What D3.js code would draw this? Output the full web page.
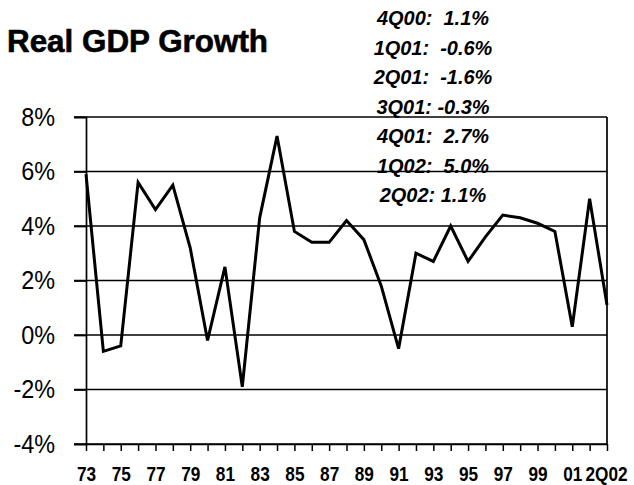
<!DOCTYPE html>
<html lang="en">
  <head>
    <meta charset="utf-8" />
    <title>Real GDP Growth</title>
    <script src="https://d3js.org/d3.v7.min.js"></script>
    <style type="text/css">
        body { margin:0; background:#fff; }
        text { font-family:"Liberation Sans", Arial, sans-serif; fill:#000; }
    </style>
  </head>
  <body>
    <svg id="chart"></svg>
  </body>
  <script type="text/javascript">

    var w = 634,
        h = 485;

    // annual growth 73..01, then the two 2002 quarters
    var categories = ['73','74','75','76','77','78','79','80','81','82',
                      '83','84','85','86','87','88','89','90','91','92',
                      '93','94','95','96','97','98','99','00','01','1Q02','2Q02'];
    var growth = [5.9, -0.6, -0.4, 5.6, 4.6, 5.5, 3.2, -0.2, 2.5, -1.9,
                  4.3, 7.3, 3.8, 3.4, 3.4, 4.2, 3.5, 1.8, -0.5, 3.0,
                  2.7, 4.0, 2.7, 3.6, 4.4, 4.3, 4.1, 3.8, 0.3, 5.0, 1.1];
    var yTicks = [-4, -2, 0, 2, 4, 6, 8];
    var notes = ['4Q00:  1.1%', '1Q01:  -0.6%', '2Q01:  -1.6%', '3Q01: -0.3%',
                 '4Q01:  2.7%', '1Q02:  5.0%', '2Q02: 1.1%'];

    var plotLeft = 86, plotRight = 607, plotTop = 117, plotBottom = 444;

    var svg = d3.select('#chart')
                .attr('width', w)
                .attr('height', h);

    var xScale = d3.scalePoint()
                   .domain(categories)
                   .range([plotLeft, plotRight]);
    var yScale = d3.scaleLinear()
                   .domain([-4, 8])
                   .range([plotBottom, plotTop]);

    // squeeze a text a little, like the narrow face of the original
    function narrow(sel, k) {
        sel.each(function() {
            var len = this.getComputedTextLength();
            if (len > 0) {
                d3.select(this)
                  .attr('textLength', len * k)
                  .attr('lengthAdjust', 'spacingAndGlyphs');
            }
        });
    }

    // title
    svg.append('text')
       .attr('x', 7)
       .attr('y', 52)
       .attr('font-size', 32)
       .attr('font-weight', 'bold')
       .attr('stroke', '#000')
       .attr('stroke-width', 0.6)
       .attr('textLength', 261)
       .attr('lengthAdjust', 'spacingAndGlyphs')
       .text('Real GDP Growth');

    // horizontal grid lines, running out past the axis as ticks
    svg.selectAll('line.grid')
       .data(yTicks)
       .enter()
       .append('line')
       .attr('class', 'grid')
       .attr('x1', plotLeft - 12)
       .attr('x2', plotRight)
       .attr('y1', function(d) { return yScale(d); })
       .attr('y2', function(d) { return yScale(d); })
       .attr('stroke', '#000')
       .attr('stroke-width', 1.7);

    // y axis
    var yAxis = d3.axisLeft(yScale)
                  .tickValues(yTicks)
                  .tickSize(12)
                  .tickPadding(19)
                  .tickFormat(function(d) { return d + '%'; });
    var gy = svg.append('g')
                .attr('transform', 'translate(' + plotLeft + ',0)')
                .call(yAxis);
    gy.select('.domain').attr('stroke-width', 1.7);
    gy.selectAll('.tick line').attr('stroke-width', 1.7);
    gy.selectAll('.tick text')
      .attr('font-size', 26)
      .attr('font-family', '"Liberation Sans", Arial, sans-serif')
      .attr('fill', '#000')
      .call(narrow, 0.9);

    // right frame
    svg.append('line')
       .attr('x1', plotRight).attr('x2', plotRight)
       .attr('y1', plotTop).attr('y2', plotBottom)
       .attr('stroke', '#000')
       .attr('stroke-width', 1.7);

    // x axis: a tick for every category, a label for every other one
    var xAxis = d3.axisBottom(xScale)
                  .tickSizeInner(7)
                  .tickSizeOuter(0)
                  .tickPadding(16)
                  .tickFormat(function(d, i) { return i % 2 === 0 ? d : ''; });
    var gx = svg.append('g')
                .attr('transform', 'translate(0,' + plotBottom + ')')
                .call(xAxis);
    gx.select('.domain').attr('stroke-width', 1.7);
    gx.selectAll('.tick line').attr('stroke-width', 1.5);
    gx.selectAll('.tick text')
      .attr('font-size', 20)
      .attr('font-weight', 'bold')
      .attr('font-family', '"Liberation Sans", Arial, sans-serif')
      .attr('fill', '#000')
      .attr('dx', function(d, i) { return i === categories.length - 1 ? -1 : 0; })
      .call(narrow, 0.86);

    // growth line
    var line = d3.line()
                 .x(function(d, i) { return xScale(categories[i]); })
                 .y(function(d) { return yScale(d); });

    svg.append('path')
       .datum(growth)
       .attr('d', line)
       .attr('fill', 'none')
       .attr('stroke', '#000')
       .attr('stroke-width', 3)
       .attr('stroke-linejoin', 'miter');

    // quarterly notes
    svg.selectAll('text.note')
       .data(notes)
       .enter()
       .append('text')
       .attr('class', 'note')
       .attr('x', 433)
       .attr('y', function(d, i) { return 25 + i * 29.5; })
       .attr('text-anchor', 'middle')
       .attr('font-size', 21)
       .attr('font-weight', 'bold')
       .attr('font-style', 'italic')
       .style('white-space', 'pre')
       .text(function(d) { return d; })
       .call(narrow, 0.95);
    </script>
</html>
